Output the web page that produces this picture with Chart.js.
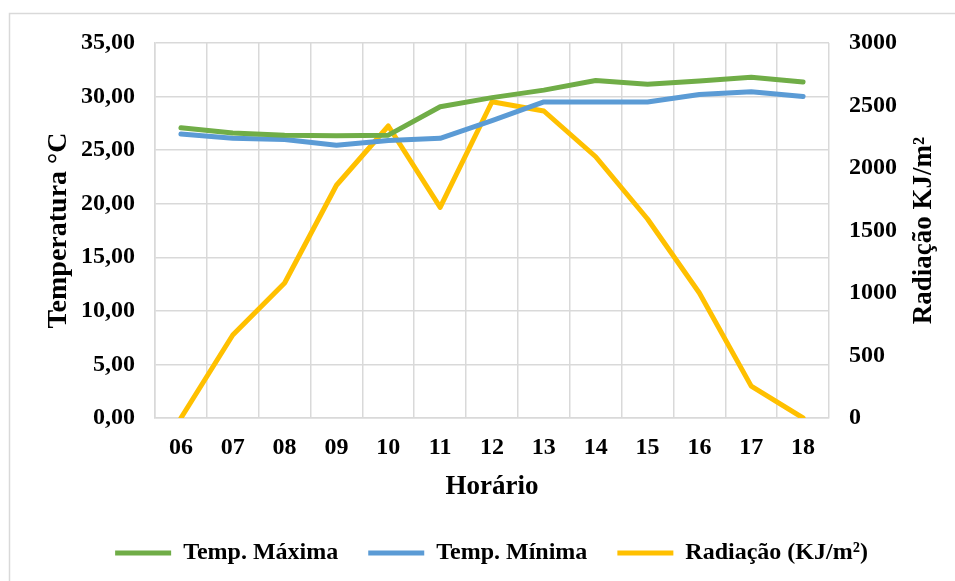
<!DOCTYPE html>
<html>
<head>
<meta charset="utf-8">
<script src="https://cdn.jsdelivr.net/npm/chart.js@4.4.1/dist/chart.umd.min.js"></script>
<style>
  html, body { margin: 0; padding: 0; background: #ffffff; }
  #wrap { position: relative; width: 955px; height: 581px; }
</style>
</head>
<body>
<div id="wrap"><canvas id="grafico" width="955" height="581"></canvas></div>
<script>
// Horário de medição
const horas = ['06', '07', '08', '09', '10', '11', '12', '13', '14', '15', '16', '17', '18'];

// Temperaturas (°C)
const tempMaxima = [27.1, 26.6, 26.4, 26.35, 26.4, 29.05, 29.9, 30.6, 31.5, 31.15, 31.45, 31.8, 31.35];
const tempMinima = [26.5, 26.1, 26.0, 25.45, 25.9, 26.1, 27.75, 29.5, 29.5, 29.5, 30.2, 30.45, 30.0];

// Radiação (KJ/m²)
const radiacao = [0, 664, 1080, 1862, 2336, 1685, 2530, 2456, 2090, 1592, 1000, 255, 0];

// Nomes das séries e títulos dos eixos
const serieNomes = ['Temp. Máxima', 'Temp. Mínima', 'Radiação (KJ/m²)'];
const tituloX = 'Horário';
const tituloTemp = 'Temperatura °C';
const tituloRad = 'Radiação KJ/m²';

const FONTE = '"Liberation Serif", "Times New Roman", serif';
const fonteTicks = { family: FONTE, size: 24, weight: 'bold' };
const corGrade = '#d9d9d9';
const espessura = 5;

// Moldura cinza clara em volta do gráfico
const moldura = {
  id: 'moldura',
  beforeDraw(chart) {
    const ctx = chart.ctx;
    ctx.save();
    ctx.strokeStyle = corGrade;
    ctx.lineWidth = 1.5;
    ctx.beginPath();
    ctx.moveTo(9.5, chart.height + 5);
    ctx.lineTo(9.5, 13.5);
    ctx.lineTo(chart.width + 5, 13.5);
    ctx.stroke();
    ctx.restore();
  }
};

// Título do eixo direito, lido de baixo para cima
const tituloDireito = {
  id: 'tituloDireito',
  afterDraw(chart) {
    const s = chart.scales.y1;
    const area = chart.chartArea;
    const ctx = chart.ctx;
    ctx.save();
    ctx.translate(s.right - 17, (area.top + area.bottom) / 2);
    ctx.rotate(-Math.PI / 2);
    ctx.font = 'bold 27px ' + FONTE;
    ctx.fillStyle = '#000';
    ctx.textAlign = 'center';
    ctx.textBaseline = 'middle';
    ctx.fillText(tituloRad, 0, 0);
    ctx.restore();
  }
};

function serie(nome, valores, cor, eixo) {
  return {
    label: nome,
    data: valores,
    borderColor: cor,
    backgroundColor: cor,
    borderWidth: espessura,
    borderCapStyle: 'round',
    borderJoinStyle: 'round',
    tension: 0,
    fill: false,
    pointRadius: 0,
    pointHoverRadius: 0,
    yAxisID: eixo
  };
}

new Chart(document.getElementById('grafico'), {
  type: 'line',
  data: {
    labels: horas,
    datasets: [
      serie(serieNomes[0], tempMaxima, '#70ad47', 'y'),
      serie(serieNomes[1], tempMinima, '#5b9bd5', 'y'),
      serie(serieNomes[2], radiacao, '#ffc000', 'y1')
    ]
  },
  options: {
    responsive: false,
    animation: false,
    layout: { padding: { left: 42, right: 14, top: 43, bottom: 6 } },
    plugins: {
      legend: {
        position: 'bottom',
        labels: {
          usePointStyle: true,
          pointStyle: 'line',
          pointStyleWidth: 56,
          padding: 30,
          color: '#000',
          font: { family: FONTE, size: 24, weight: 'bold' }
        }
      },
      tooltip: { enabled: false }
    },
    scales: {
      x: {
        offset: true,
        grid: { offset: true, color: corGrade, lineWidth: 1.5, drawTicks: false },
        border: { display: true, color: corGrade, width: 1.5 },
        ticks: { color: '#000', font: fonteTicks, padding: 15, maxRotation: 0, autoSkip: false },
        title: { display: true, text: tituloX, color: '#000', font: { family: FONTE, size: 27, weight: 'bold' }, padding: { top: 0, bottom: 8 } },
        afterFit(s) { s.height = 93; }
      },
      y: {
        position: 'left',
        min: 0,
        max: 35,
        grid: { color: corGrade, lineWidth: 1.5, drawTicks: false },
        border: { display: true, color: corGrade, width: 1.5 },
        ticks: {
          stepSize: 5,
          color: '#000',
          font: fonteTicks,
          padding: 20,
          callback: v => v.toFixed(2).replace('.', ',')
        },
        title: { display: true, text: tituloTemp, color: '#000', font: { family: FONTE, size: 28, weight: 'bold' }, padding: { top: 0, bottom: 0 } },
        afterFit(s) { s.width = 113; }
      },
      y1: {
        position: 'right',
        min: 0,
        max: 3000,
        grid: { display: false, drawTicks: false },
        border: { display: false },
        ticks: { stepSize: 500, color: '#000', font: fonteTicks, padding: 20, callback: v => String(v) },
        afterFit(s) { s.width = 112; }
      }
    }
  },
  plugins: [moldura, tituloDireito]
});
</script>
</body>
</html>
